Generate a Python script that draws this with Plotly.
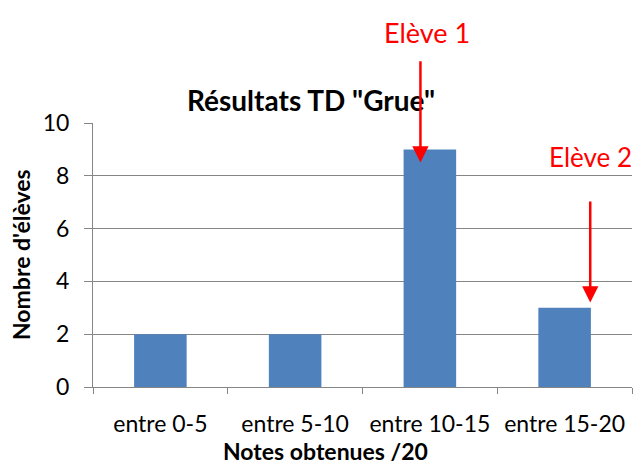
import plotly.graph_objects as go

categories = ["entre 0-5", "entre 5-10", "entre 10-15", "entre 15-20"]
counts = [2, 2, 9, 3]
title_text = "Résultats TD \"Grue\""
x_title = "Notes obtenues /20"
y_title = "Nombre d'élèves"
y_ticks = [0, 2, 4, 6, 8, 10]

FONT = "Lato, Open Sans, sans-serif"

fig = go.Figure(go.Bar(
    x=categories, y=counts, marker=dict(color="#4F81BD", line=dict(width=0)),
    width=0.39, showlegend=False,
))

# page body has an 8px margin, so the figure is drawn slightly smaller
W, H = 634, 456
L, R, T, B = 85, 10, 115, 77
PW, PH = W - L - R, H - T - B


def px(x):
    return (x - 93) / PW


def py(y):
    return (387 - y) / PH


fig.update_layout(
    width=W, height=H,
    margin=dict(l=L, r=R, t=T, b=B),
    paper_bgcolor="white", plot_bgcolor="white",
    font=dict(family=FONT, size=22, color="black"),
)
fig.update_xaxes(
    showline=True, linecolor="#868686", linewidth=1,
    ticks="outside", tickson="boundaries", ticklen=6, tickcolor="#868686",
    showgrid=False, tickfont=dict(size=23), ticklabelstandoff=16,
)
fig.update_yaxes(
    range=[0, 10], tickvals=y_ticks, showline=True, linecolor="#868686", linewidth=1,
    ticks="outside", ticklen=8, tickcolor="#868686",
    showgrid=True, gridcolor="#868686", gridwidth=1, zeroline=False,
    tickfont=dict(size=23), ticklabelstandoff=10,
)

annotations = [
    dict(text="<b>" + title_text + "</b>", xref="paper", yref="paper",
         x=px(311), y=py(100),
         showarrow=False, font=dict(size=28), xanchor="center", yanchor="middle"),
    dict(text="<b>" + x_title + "</b>", xref="paper", yref="paper",
         x=px(325), y=py(451),
         showarrow=False, font=dict(size=23), xanchor="center", yanchor="middle"),
    dict(text="<b>" + y_title + "</b>", xref="paper", yref="paper",
         x=px(21), y=py(255), textangle=-90,
         showarrow=False, font=dict(size=23), xanchor="center", yanchor="middle"),
    # Arrows
    dict(x=1.93, y=8.5, xref="x", yref="y", ax=1.93, ay=12.4, axref="x", ayref="y",
         text="", showarrow=True, arrowhead=2, arrowsize=1.3, arrowwidth=2.5, arrowcolor="#FF0000"),
    dict(x=3.19, y=3.2, xref="x", yref="y", ax=3.19, ay=7.08, axref="x", ayref="y",
         text="", showarrow=True, arrowhead=2, arrowsize=1.3, arrowwidth=2.5, arrowcolor="#FF0000"),
    dict(x=px(427), y=py(32), xref="paper", yref="paper", text="Elève 1", showarrow=False,
         font=dict(size=27, color="#FF0000"), xanchor="center", yanchor="middle"),
    dict(x=px(590), y=py(157), xref="paper", yref="paper", text="Elève 2", showarrow=False,
         font=dict(size=26, color="#FF0000"), xanchor="center", yanchor="middle"),
]
fig.update_layout(annotations=annotations)

fig.write_html("out.html")
